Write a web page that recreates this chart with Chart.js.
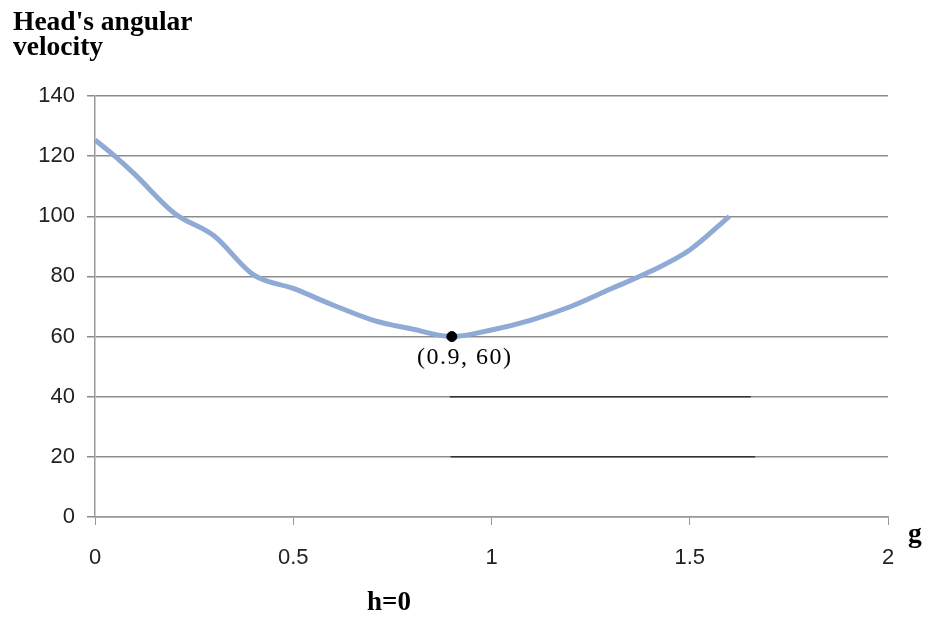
<!DOCTYPE html>
<html>
<head>
<meta charset="utf-8">
<script src="https://cdn.jsdelivr.net/npm/chart.js@4.4.1/dist/chart.umd.min.js"></script>
<style>
  html, body { margin: 0; padding: 0; background: #fff; }
  #wrap { position: relative; width: 925px; height: 617px; }
</style>
</head>
<body>
<div id="wrap"><canvas id="chart" width="925" height="617"></canvas></div>
<script>
// curve values
const gValues = [0, 0.05, 0.1, 0.2, 0.3, 0.4, 0.5, 0.6, 0.7, 0.8, 0.9, 1.0, 1.1, 1.2, 1.3, 1.4, 1.5, 1.6];
const velocity = [125.4, 120, 114, 101, 93.5, 80.5, 76, 70.5, 65.5, 62.5, 60, 62.2, 65.5, 70, 75.8, 81.6, 88.8, 100];

// marked minimum
const minPoint = { x: 0.9, y: 60 };
const minLabel = "(0.9, 60)";

// dark segments over the 40 and 20 grid lines
const seg40 = [0.895, 1.654];
const seg20 = [0.897, 1.665];

const yTicks = [0, 20, 40, 60, 80, 100, 120, 140];
const xTickLabels = ["0", "0.5", "1", "1.5", "2"];

const titleLines = ["Head's angular", "velocity"];
const xName = "g";
const bottomNote = "h=0";

const curve = gValues.map((g, i) => ({ x: g, y: velocity[i] }));

// text drawn straight on the canvas
const textPlugin = {
    id: "extraText",
    afterDraw(chart) {
        const ctx = chart.ctx;
        ctx.save();
        ctx.fillStyle = "#000";
        ctx.textBaseline = "alphabetic";
        ctx.textAlign = "left";
        ctx.font = "bold 27.5px 'Liberation Serif', 'Times New Roman', serif";
        ctx.fillText(titleLines[0], 13, 30);
        ctx.fillText(titleLines[1], 13, 55);
        ctx.fillText(xName, 908, 542);
        ctx.font = "bold 27px 'Liberation Serif', 'Times New Roman', serif";
        ctx.fillText(bottomNote, 367, 610);
        ctx.font = "24px 'Liberation Serif', 'Times New Roman', serif";
        ctx.letterSpacing = "1.5px";
        ctx.fillText(minLabel, 417, 364);
        ctx.restore();
    }
};

const ctx = document.getElementById("chart").getContext("2d");
const myChart = new Chart(ctx, {
    type: "line",
    data: {
        datasets: [
            {
                data: [{ x: seg40[0], y: 40 }, { x: seg40[1], y: 40 }],
                borderColor: "#333",
                borderWidth: 1.5,
                pointRadius: 0,
                order: 3
            },
            {
                data: [{ x: seg20[0], y: 20 }, { x: seg20[1], y: 20 }],
                borderColor: "#333",
                borderWidth: 1.5,
                pointRadius: 0,
                order: 3
            },
            {
                data: curve,
                borderColor: "#8faad4",
                borderWidth: 5,
                pointRadius: 0,
                cubicInterpolationMode: "monotone",
                order: 2
            },
            {
                data: [minPoint],
                borderColor: "#000",
                backgroundColor: "#000",
                pointRadius: 5,
                showLine: false,
                order: 1
            }
        ]
    },
    options: {
        responsive: false,
        animation: false,
        events: [],
        layout: { padding: { left: 0, right: 37, top: 96, bottom: 0 } },
        plugins: { legend: { display: false }, tooltip: { enabled: false } },
        scales: {
            x: {
                type: "linear",
                min: 0,
                max: 2,
                afterFit(scale) { scale.height = 100; },
                afterBuildTicks(scale) {
                    scale.ticks = xTickLabels.map(v => ({ value: parseFloat(v) }));
                },
                ticks: {
                    callback: (v, i) => xTickLabels[i],
                    font: { family: "'Liberation Sans', Arial, sans-serif", size: 22 },
                    color: "#222",
                    padding: 20,
                    maxRotation: 0
                },
                grid: { drawOnChartArea: false, drawTicks: true, tickLength: 8, color: "#999" },
                border: { color: "#999", width: 1.5 }
            },
            y: {
                min: 0,
                max: 140,
                afterFit(scale) { scale.width = 95; },
                afterBuildTicks(scale) {
                    scale.ticks = yTicks.map(v => ({ value: v }));
                },
                ticks: {
                    font: { family: "'Liberation Sans', Arial, sans-serif", size: 22 },
                    color: "#222",
                    padding: 12
                },
                grid: { color: "#8c8c8c", lineWidth: 1.5, tickLength: 8 },
                border: { color: "#999", width: 1.5 }
            }
        }
    },
    plugins: [textPlugin]
});
</script>
</body>
</html>
